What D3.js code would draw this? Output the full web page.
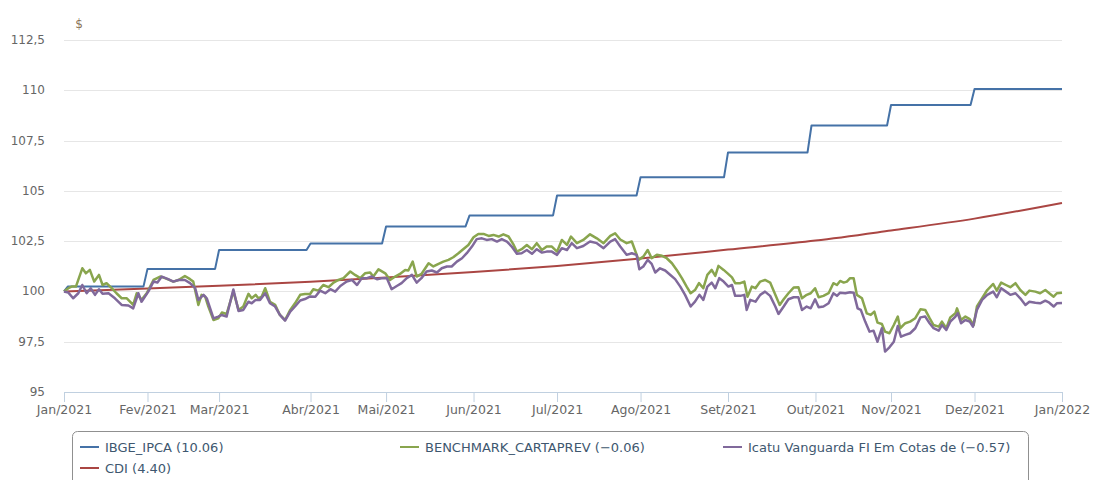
<!DOCTYPE html>
<html>
<head>
<meta charset="utf-8">
<script src="https://cdn.jsdelivr.net/npm/d3@7"></script>
<style>
  body { margin: 0; background: #fff; }
  svg { font-family: "DejaVu Sans", Verdana, sans-serif; }
</style>
</head>
<body>
<svg id="chart" width="1094" height="480"></svg>
<script>
// x is the trading-day index of 2021 (0 = base day, 251 = Jan/2022)
var monthDays = [0, 21, 39, 62, 81, 103, 124, 145, 167, 189, 208, 229, 251]
var monthLabels = ["Jan/2021", "Fev/2021", "Mar/2021", "Abr/2021", "Mai/2021", "Jun/2021", "Jul/2021",
    "Ago/2021", "Set/2021", "Out/2021", "Nov/2021", "Dez/2021", "Jan/2022"]
var yTicks = [95, 97.5, 100, 102.5, 105, 107.5, 110, 112.5]

// IBGE_IPCA: accumulated index level and the day each new level is reached
var ipcaLevels = [100, 100.25, 101.12, 102.06, 102.38, 103.23, 103.78, 104.77, 105.68, 106.91, 108.25, 109.27, 110.06]
var ipcaStepDays = [1, 21, 39, 62, 81, 102, 124, 145, 167, 188, 208, 229]

// CDI accumulated at each month start
var cdiValues = [100, 100.15, 100.28, 100.48, 100.69, 100.96, 101.27, 101.64, 102.08, 102.53, 103.03, 103.62, 104.40]

var benchmark = [[0,100],[1.1,100.16],[1.9,100.24],[3.0,100.24],[4.6,101.15],[5.5,100.90],[6.5,101.07],[7.6,100.49],[8.8,100.82],[9.7,100.32],[10.7,100.41],[12,100.16],[13.2,99.91],[14.5,99.66],[15.8,99.66],[17.4,99.33],[18.3,99.91],[19.5,99.58],[20.8,99.91],[22.5,100.57],[24.2,100.74],[25.4,100.66],[27.5,100.49],[28.8,100.57],[30.4,100.77],[31.7,100.61],[32.5,100.49],[33.8,99.33],[34.6,99.83],[35.5,99.74],[36.3,99.25],[37.6,98.58],[38.8,98.66],[39.7,98.95],[40.9,98.88],[42.6,100.0],[43.9,99.08],[45.1,99.25],[46.4,99.88],[47.2,99.66],[48.2,99.83],[48.9,99.66],[49.7,99.74],[50.6,100.16],[51.8,99.49],[53.1,99.33],[54.3,98.83],[55.6,98.58],[56.9,99.08],[58.1,99.41],[59.4,99.83],[60.6,99.87],[61.9,99.87],[62.7,100.11],[64,100.04],[65.2,100.32],[66.5,100.21],[67.8,100.44],[69,100.57],[70.3,100.66],[72,100.99],[73.2,100.82],[74.5,100.66],[75.7,100.90],[77,100.94],[77.8,100.74],[79.1,101.10],[80.8,100.90],[82,100.57],[83.3,100.74],[84.5,100.87],[85.8,101.07],[86.6,101.04],[87.7,101.48],[88.7,100.74],[89.9,100.87],[91.7,101.40],[92.9,101.24],[94.2,101.37],[95.4,101.48],[96.7,101.57],[97.9,101.70],[99.2,101.90],[100.4,102.10],[101.7,102.31],[103,102.69],[104.2,102.86],[105.5,102.86],[106.8,102.76],[108,102.81],[109.3,102.73],[110.5,102.84],[111.8,102.73],[113.1,102.31],[113.9,101.98],[115.1,102.10],[116.4,102.31],[117.7,102.10],[118.9,102.40],[120.2,102.06],[121.4,102.23],[122.7,102.23],[124,101.98],[125.2,102.56],[126.5,102.31],[127.5,102.73],[129,102.40],[130.6,102.56],[132.3,102.84],[134,102.64],[135.7,102.40],[137.4,102.76],[138.6,102.89],[139.9,102.58],[141.5,102.40],[142.8,102.48],[144.5,101.57],[145.7,101.73],[146.8,102.06],[147.8,101.65],[149.1,101.82],[150.4,101.77],[151.6,101.65],[152.9,101.40],[154.1,101.07],[155.4,100.66],[156.6,100.24],[157.6,99.91],[158.7,100.07],[159.7,100.41],[160.8,100.16],[161.8,100.82],[162.9,101.07],[163.8,100.77],[164.6,101.27],[165.9,101.07],[166.9,100.90],[168,100.70],[168.8,100.41],[170.1,100.41],[171.1,100.49],[171.9,99.74],[173,100.24],[173.9,100.16],[175.1,100.49],[176.3,100.57],[177.6,100.44],[178.9,99.83],[180,99.33],[181,99.61],[182.2,99.91],[183.5,100.19],[184.7,100.21],[185.6,99.66],[186.8,99.83],[187.8,99.91],[188.9,100.16],[189.8,99.71],[191,99.78],[192.3,99.91],[193.5,100.41],[194.4,100.32],[195.2,100.52],[196.1,100.44],[196.9,100.49],[197.7,100.66],[198.6,100.66],[199.4,99.83],[200.7,99.66],[201.9,98.91],[202.9,98.83],[203.8,99.00],[204.6,98.45],[205.7,98.38],[206.5,98.00],[207.6,97.92],[208.7,98.33],[209.7,98.75],[210.3,98.17],[211.6,98.42],[212.8,98.50],[214.1,98.67],[215.4,99.11],[216.6,99.08],[217.7,98.67],[218.7,98.33],[220,98.25],[220.8,98.50],[221.9,98.17],[222.9,98.71],[224.2,98.91],[224.6,99.16],[225.6,98.58],[226.7,98.75],[227.8,98.62],[228.8,98.33],[229.6,99.25],[230.9,99.66],[232.2,100.07],[233.7,100.37],[234.6,100.04],[235.7,100.44],[236.9,100.32],[238,100.21],[239.3,100.41],[240.5,100.07],[241.8,99.83],[242.8,100.04],[244.3,99.99],[245.5,99.91],[246.8,100.07],[247.8,99.91],[248.9,99.74],[249.7,99.91],[251,99.94]]

var icatu = [[0,100],[1.1,99.94],[2.3,99.66],[3.6,99.91],[4.6,100.32],[5.7,99.91],[6.7,100.16],[7.8,99.83],[8.8,100.11],[9.7,99.88],[11.2,99.91],[12.8,99.66],[14.5,99.33],[16.2,99.30],[17.4,99.16],[18.7,99.91],[19.5,99.49],[21.2,99.99],[22.5,100.49],[23.5,100.44],[24.6,100.74],[26.2,100.61],[27.5,100.49],[28.8,100.57],[30.4,100.57],[31.7,100.41],[33,100.16],[33.8,99.58],[35.1,99.83],[35.9,99.66],[37.6,98.66],[38.8,98.75],[39.7,98.83],[40.9,98.75],[42.6,100.1],[43.9,99.03],[45.1,99.08],[46.4,99.49],[47.2,99.41],[48.2,99.58],[49.3,99.58],[50.6,99.91],[51.8,99.41],[53.1,99.25],[54.3,98.83],[55.6,98.55],[56.9,99.00],[58.1,99.25],[59.4,99.55],[60.6,99.62],[61.9,99.75],[63.2,99.74],[64.4,100.04],[65.7,99.91],[67,100.11],[68.2,99.99],[69.5,100.27],[71.1,100.49],[72.4,100.57],[73.7,100.32],[74.9,100.66],[76.2,100.66],[77.4,100.74],[78.7,100.61],[79.9,100.66],[81.2,100.66],[82.4,100.11],[83.7,100.27],[84.9,100.41],[86.2,100.66],[87.5,100.82],[88.7,100.44],[89.9,100.66],[91.2,100.99],[92.5,101.04],[93.8,100.94],[95,101.15],[96.3,101.24],[97.5,101.24],[98.8,101.48],[100.1,101.65],[101.3,101.90],[102.6,102.23],[103.8,102.60],[105.1,102.64],[106.3,102.56],[107.6,102.60],[108.9,102.48],[110.1,102.60],[111.4,102.48],[112.6,102.23],[113.9,101.87],[115.1,101.90],[116.4,102.06],[117.7,101.87],[118.9,102.10],[120.2,101.93],[121.4,101.98],[122.7,101.98],[124,101.82],[125.2,102.15],[126.5,102.06],[127.7,102.40],[129,102.15],[130.6,102.26],[132.3,102.48],[134,102.40],[135.7,102.15],[137.4,102.48],[138.6,102.60],[139.9,102.23],[141.5,101.82],[142.8,101.90],[144,101.82],[144.7,101.10],[145.7,101.24],[146.8,101.57],[147.8,101.37],[148.7,100.94],[149.9,101.15],[151.2,101.04],[152.5,100.82],[153.7,100.61],[155,100.24],[156.2,99.83],[157.6,99.25],[158.7,99.49],[159.8,99.83],[160.8,99.58],[161.8,100.24],[162.9,100.44],[163.8,100.16],[164.8,100.66],[165.9,100.49],[167.1,100.24],[168,100.32],[168.8,99.78],[170.1,99.78],[171.1,99.83],[171.7,99.08],[172.6,99.58],[173.9,99.49],[175.1,99.83],[176.3,99.99],[177.6,99.78],[178.9,99.25],[179.7,98.88],[181,99.25],[182.2,99.61],[183.5,99.71],[184.7,99.71],[185.6,99.08],[186.8,99.25],[187.8,99.16],[188.9,99.61],[189.8,99.21],[191,99.25],[192.3,99.41],[193.5,99.91],[194.4,99.78],[195.2,99.94],[196.5,99.91],[197.7,99.96],[198.6,99.94],[199.6,99.16],[200.4,99.08],[201.5,98.50],[202.6,98.00],[203.6,98.05],[204.6,97.50],[205.7,98.17],[206.5,97.01],[207.6,97.22],[208.7,97.50],[209.7,98.28],[210.5,97.75],[211.6,97.84],[212.8,97.92],[214.1,98.17],[215.4,98.71],[216.6,98.75],[217.7,98.42],[218.7,98.17],[220,98.05],[220.8,98.33],[221.9,98.08],[222.9,98.50],[224.2,98.75],[224.8,98.91],[225.6,98.42],[226.7,98.58],[227.8,98.50],[228.6,98.25],[229.6,99.08],[230.9,99.58],[232.2,99.83],[233.7,99.99],[234.6,99.71],[235.7,100.16],[236.9,99.99],[238,99.83],[239.3,99.91],[240.5,99.66],[241.8,99.33],[242.8,99.49],[244.3,99.44],[245.5,99.41],[246.8,99.54],[247.8,99.44],[248.9,99.25],[249.7,99.41],[251,99.43]]

var legendNames = ["IBGE_IPCA (10.06)", "BENCHMARK_CARTAPREV (\u22120.06)", "Icatu Vanguarda FI Em Cotas de (\u22120.57)", "CDI (4.40)"]
var colors = ["#4572A7", "#89A54E", "#80699B", "#AA4643"]

var svg = d3.select("#chart")
var x = d3.scaleLinear().domain([0, 251]).range([64, 1062])
var y = d3.scaleLinear().domain([95, 112.5]).range([392, 40])

// grid
svg.append("g")
    .selectAll("line")
    .data(yTicks)
    .enter().append("line")
    .attr("x1", 64)
    .attr("x2", 1062)
    .attr("y1", d => Math.round(y(d)) + 0.5)
    .attr("y2", d => Math.round(y(d)) + 0.5)
    .attr("stroke", "#e6e6e6")

// y axis labels
svg.append("g")
    .selectAll("text")
    .data(yTicks)
    .enter().append("text")
    .attr("x", 45)
    .attr("y", d => y(d) + 4)
    .attr("text-anchor", "end")
    .attr("fill", "#666")
    .style("font-size", "12px")
    .text(d => String(d).replace(".", ","))

svg.append("text")
    .attr("x", 79)
    .attr("y", 28)
    .attr("text-anchor", "middle")
    .attr("fill", "#8a7358")
    .style("font-size", "12px")
    .text("$")

// x axis
var xAxis = d3.axisBottom(x)
    .tickValues(monthDays)
    .tickSize(10)
    .tickFormat((d, i) => monthLabels[i])

var gx = svg.append("g")
    .attr("transform", "translate(0,392)")
    .call(xAxis)
gx.select(".domain").attr("stroke", "#C0D0E0").attr("d", "M64.5,0.5H1062.5")
gx.selectAll(".tick line").attr("stroke", "#C0D0E0")
gx.selectAll(".tick text")
    .attr("fill", "#666")
    .attr("y", 13)
    .style("font-family", "DejaVu Sans, Verdana, sans-serif")
    .style("font-size", "12.5px")

// series
var line = d3.line().x(d => x(d[0])).y(d => y(d[1]))

var ipcaPoints = [[0, ipcaLevels[0]]]
ipcaStepDays.forEach((day, k) => {
    ipcaPoints.push([day - 1, ipcaLevels[k]])
    ipcaPoints.push([day, ipcaLevels[k + 1]])
})
ipcaPoints.push([251, ipcaLevels[ipcaLevels.length - 1]])

var cdiPoints = monthDays.map((d, i) => [d, cdiValues[i]])

var plot = svg.append("g").attr("fill", "none").attr("stroke-linejoin", "round")

plot.append("path")
    .datum(cdiPoints)
    .attr("d", line.curve(d3.curveMonotoneX))
    .attr("stroke", colors[3])
    .attr("stroke-width", 2)

line.curve(d3.curveLinear)

plot.append("path")
    .datum(ipcaPoints)
    .attr("d", line)
    .attr("stroke", colors[0])
    .attr("stroke-width", 2)

plot.append("path")
    .datum(benchmark)
    .attr("d", line)
    .attr("stroke", colors[1])
    .attr("stroke-width", 2.5)

plot.append("path")
    .datum(icatu)
    .attr("d", line)
    .attr("stroke", colors[2])
    .attr("stroke-width", 2.5)

// legend
var legend = svg.append("g")
legend.append("rect")
    .attr("x", 72.5)
    .attr("y", 431.5)
    .attr("width", 956)
    .attr("height", 70)
    .attr("rx", 5)
    .attr("fill", "#fff")
    .attr("stroke", "#909090")

var legendPos = [[80, 447], [400, 447], [723, 447], [80, 468]]
var items = legend.selectAll("g")
    .data(legendNames)
    .enter().append("g")
    .attr("transform", (d, i) => "translate(" + legendPos[i][0] + "," + legendPos[i][1] + ")")

items.append("line")
    .attr("x1", 0)
    .attr("x2", 19)
    .attr("stroke", (d, i) => colors[i])
    .attr("stroke-width", 2)

items.append("text")
    .attr("x", 25)
    .attr("y", 5)
    .attr("fill", "#3E576F")
    .style("font-size", "13px")
    .text(d => d)
</script>
</body>
</html>
